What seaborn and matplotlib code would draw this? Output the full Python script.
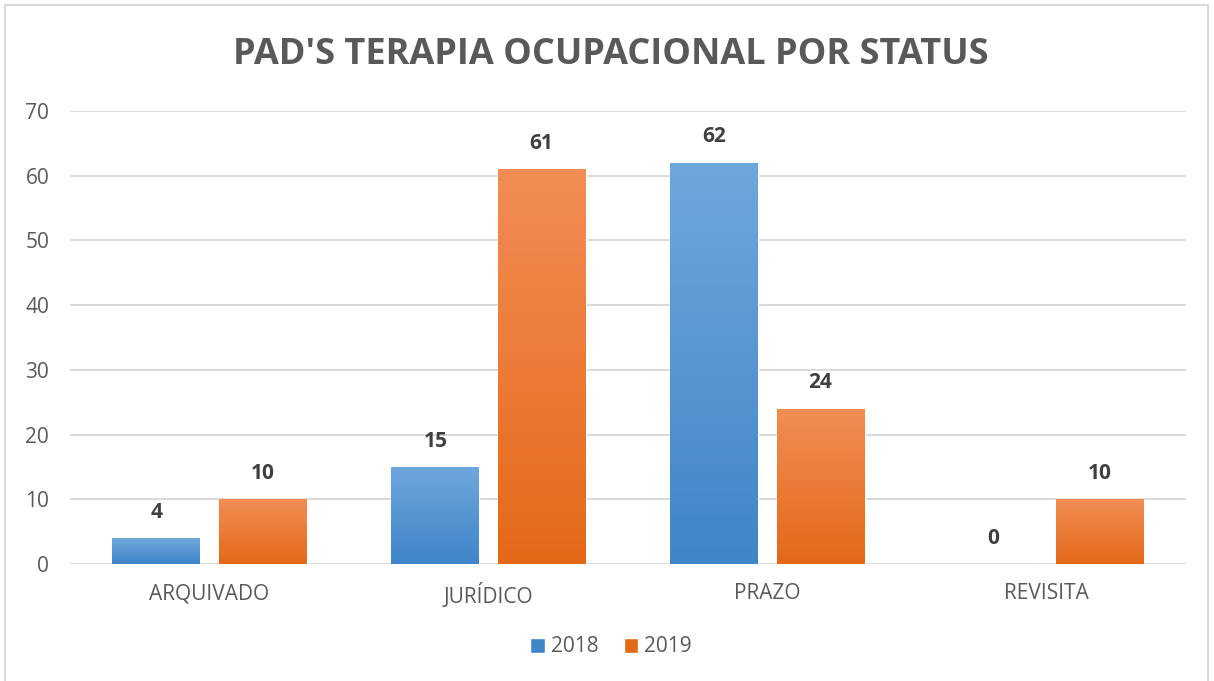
import numpy as np
import pandas as pd
import matplotlib
matplotlib.use("Agg")
import matplotlib.pyplot as plt
import seaborn as sns
from matplotlib.colors import LinearSegmentedColormap
from matplotlib.patches import Rectangle

# data
categorias = ["ARQUIVADO", "JURÍDICO", "PRAZO", "REVISITA"]
valores_2018 = [4, 15, 62, 0]
valores_2019 = [10, 61, 24, 10]
anos = ["2018", "2019"]

df = pd.DataFrame({
    "Status": categorias * 2,
    "Ano": [anos[0]] * 4 + [anos[1]] * 4,
    "Qtd": valores_2018 + valores_2019,
})

sns.set_theme(style="white")
plt.rcParams["font.family"] = ["Open Sans", "DejaVu Sans"]

cinza = "#595959"
grad = {
    "2018": ("#6FA7DC", "#3F85C8"),
    "2019": ("#F28D55", "#E36918"),
}

fig = plt.figure(figsize=(12.14, 6.81), dpi=100)
ax = fig.add_axes([70 / 1214, 1 - 564 / 681, (1186 - 70) / 1214, (564 - 111) / 681])

sns.barplot(data=df, x="Status", y="Qtd", hue="Ano", order=categorias,
            palette=[grad["2018"][1], grad["2019"][1]], width=0.76, gap=0.17,
            ax=ax, legend=False, zorder=3)

ax.set_ylim(0, 70)
ax.set_xlim(-0.5, 3.5)
ax.set_yticks(range(0, 71, 10))
ax.yaxis.grid(True, color="#D9D9D9", lw=1.4, zorder=0)
ax.set_axisbelow(True)
for s in ax.spines.values():
    s.set_visible(False)
ax.tick_params(axis="both", length=0, labelsize=15, colors=cinza)
ax.tick_params(axis="y", pad=15)
ax.tick_params(axis="x", pad=14)
ax.set_xlabel("")
ax.set_ylabel("")

# gradient fill and value labels on each bar
n = len(categorias)
for i, patch in enumerate(ax.patches[: 2 * n]):
    ano = anos[i // n]
    top, bot = grad[ano]
    cmap = LinearSegmentedColormap.from_list(ano, [bot, top])
    x0, y0 = patch.get_x(), patch.get_y()
    w, h = patch.get_width(), patch.get_height()
    if h > 0:
        img = ax.imshow(np.linspace(0, 1, 100).reshape(-1, 1), cmap=cmap,
                        extent=[x0, x0 + w, y0, y0 + h], origin="lower",
                        aspect="auto", zorder=3)
        img.set_clip_path(patch)
        patch.set_facecolor("none")
    ax.text(x0 + w / 2, h + 4, f"{int(h)}", ha="center", va="center",
            fontsize=15, fontweight="bold", color="#404040")

ax.set_xlim(-0.5, 3.5)
ax.set_ylim(0, 70)

fig.suptitle("PAD'S TERAPIA OCUPACIONAL POR STATUS", x=611 / 1214, y=1 - 55 / 681,
             va="center", fontsize=26, fontweight="bold", color=cinza)

# legend
handles = [Rectangle((0, 0), 1, 1, facecolor=grad[a][1]) for a in anos]
fig.legend(handles, anos, loc="center", bbox_to_anchor=(611 / 1214, 1 - 647 / 681),
           ncol=2, frameon=False, fontsize=15, labelcolor=cinza,
           handlelength=0.7, handleheight=0.7, handletextpad=0.3, columnspacing=1.2)

# chart border
fig.patches.append(Rectangle((5 / 1214, -0.05), 1203 / 1214, 1.05 - 5 / 681,
                             transform=fig.transFigure, fill=False,
                             edgecolor="#D9D9D9", lw=1.5))

fig.savefig("out.png", dpi=100)
